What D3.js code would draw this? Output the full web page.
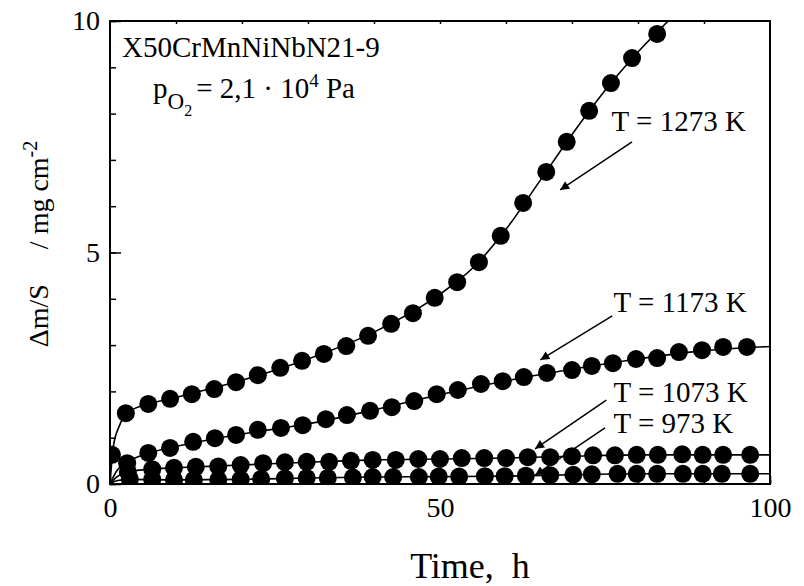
<!DOCTYPE html>
<html>
<head>
<meta charset="utf-8">
<script src="https://cdn.jsdelivr.net/npm/d3@7"></script>
<style>
  body { margin: 0; background: #fff; }
  text { font-family: "Liberation Serif", "Times New Roman", serif; fill: #000; }
</style>
</head>
<body>
<div id="container"></div>
<script>
const width = 804;
const height = 586;
const plotLeft = 110;
const plotRight = 770;
const plotTop = 21;
const plotBottom = 484;

// measured points (time in h, mass gain in mg/cm2)
const time1273 = [2.4, 5.8, 9.1, 12.4, 15.8, 19.1, 22.4, 25.8, 29.1, 32.4, 35.8, 39.1, 42.6, 45.9, 49.2, 52.6, 55.9, 59.2, 62.6, 66.1, 69.2, 72.6, 75.9, 79.1, 82.9];
const mass1273 = [1.53, 1.73, 1.84, 1.94, 2.05, 2.2, 2.35, 2.51, 2.66, 2.81, 2.98, 3.2, 3.46, 3.69, 4.02, 4.36, 4.79, 5.36, 6.07, 6.74, 7.39, 8.06, 8.66, 9.2, 9.72];

const time1173 = [0.3, 2.6, 5.8, 9.1, 12.6, 15.9, 19.1, 22.4, 25.9, 29.2, 32.7, 35.9, 39.4, 42.7, 46.1, 49.5, 52.7, 56.2, 59.5, 62.7, 66.2, 70.0, 73.0, 76.2, 79.7, 82.9, 86.2, 89.7, 92.9, 96.5];
const mass1173 = [0.63, 0.45, 0.67, 0.78, 0.91, 0.99, 1.06, 1.17, 1.21, 1.27, 1.4, 1.49, 1.58, 1.66, 1.79, 1.94, 2.03, 2.16, 2.22, 2.31, 2.4, 2.46, 2.55, 2.61, 2.7, 2.72, 2.85, 2.89, 2.96, 2.96];

const time1073 = [2.7, 6.4, 9.7, 13.0, 16.4, 19.8, 23.2, 26.5, 29.8, 33.2, 36.5, 39.8, 43.3, 46.7, 50.0, 53.3, 56.7, 60.0, 63.3, 66.7, 70.0, 73.2, 76.5, 79.8, 83.0, 86.7, 89.8, 92.9, 97.0];
const mass1073 = [0.26, 0.32, 0.35, 0.37, 0.38, 0.41, 0.45, 0.47, 0.48, 0.48, 0.5, 0.52, 0.52, 0.54, 0.54, 0.56, 0.56, 0.56, 0.58, 0.58, 0.6, 0.62, 0.62, 0.63, 0.63, 0.64, 0.63, 0.63, 0.63];

const time973 = [3.0, 6.4, 9.7, 12.7, 16.4, 19.8, 22.9, 26.5, 29.8, 33.0, 36.8, 39.8, 42.9, 46.8, 49.8, 52.9, 56.8, 59.8, 63.0, 66.7, 70.2, 73.0, 76.9, 79.8, 82.9, 86.8, 89.8, 92.7, 97.0];
const mass973 = [0.11, 0.1, 0.09, 0.09, 0.09, 0.1, 0.11, 0.12, 0.13, 0.13, 0.14, 0.15, 0.15, 0.15, 0.16, 0.16, 0.17, 0.17, 0.18, 0.19, 0.2, 0.21, 0.22, 0.22, 0.22, 0.22, 0.22, 0.22, 0.22];

// fitted curves
const fit1273 = [[0, 0], [0.5, 0.8], [1.4, 1.25], [3, 1.58], [10, 1.87], [20, 2.24], [30, 2.7], [40, 3.28], [50, 4.1], [55, 4.67], [60, 5.5], [65, 6.52], [70, 7.55], [75, 8.5], [80, 9.33], [86, 10.2]];
const fit1173 = [[0, 0], [1, 0.28], [2.6, 0.47], [6, 0.67], [10, 0.81], [20, 1.08], [30, 1.3], [40, 1.6], [50, 1.93], [60, 2.23], [70, 2.48], [80, 2.7], [90, 2.88], [100, 2.97]];
const fit1073 = [[0, 0], [1, 0.15], [2.7, 0.26], [6, 0.32], [10, 0.35], [20, 0.41], [30, 0.47], [40, 0.52], [50, 0.54], [60, 0.56], [70, 0.6], [80, 0.63], [90, 0.63], [100, 0.63]];
const fit973 = [[0, 0], [1, 0.07], [3, 0.1], [10, 0.09], [20, 0.1], [30, 0.13], [40, 0.15], [50, 0.16], [60, 0.17], [70, 0.2], [80, 0.22], [100, 0.22]];

const seriesLabels = ["T = 1273 K", "T = 1173 K", "T = 1073 K", "T = 973 K"];
// label position and arrow (from, to) in data units
const labelPos = [[76.0, 7.62], [76.3, 3.71], [76.3, 1.77], [76.3, 1.1]];
const arrowFrom = [[79.1, 7.39], [76.1, 3.63], [75.2, 1.81], [75.0, 1.21]];
const arrowTo = [[68.2, 6.35], [65.2, 2.68], [64.4, 0.76], [64.4, 0.19]];

const xMajor = [0, 50, 100];
const yMajor = [0, 5, 10];

const series = [
  { t: time1273, m: mass1273, fit: fit1273 },
  { t: time1173, m: mass1173, fit: fit1173 },
  { t: time1073, m: mass1073, fit: fit1073 },
  { t: time973, m: mass973, fit: fit973 }
];

const x = d3.scaleLinear().domain([0, 100]).range([plotLeft, plotRight]);
const y = d3.scaleLinear().domain([0, 10]).range([plotBottom, plotTop]);

const svg = d3.select("#container")
  .append("svg")
  .attr("width", width)
  .attr("height", height);

svg.append("defs").append("clipPath")
  .attr("id", "plot-clip")
  .append("rect")
  .attr("x", plotLeft)
  .attr("y", plotTop)
  .attr("width", plotRight - plotLeft)
  .attr("height", plotBottom - plotTop);

svg.select("defs").append("marker")
  .attr("id", "arrowhead")
  .attr("viewBox", "0 0 10 10")
  .attr("refX", 10)
  .attr("refY", 5)
  .attr("markerWidth", 12)
  .attr("markerHeight", 9)
  .attr("markerUnits", "userSpaceOnUse")
  .attr("orient", "auto")
  .append("path")
  .attr("d", "M0,0 L10,5 L0,10 z")
  .attr("fill", "#000");

// minor ticks
svg.append("g")
  .attr("transform", `translate(0,${plotBottom})`)
  .call(d3.axisBottom(x).tickValues(d3.range(0, 101, 10)).tickSize(-4).tickFormat(""))
  .call(g => g.select(".domain").remove());
svg.append("g")
  .attr("transform", `translate(0,${plotTop})`)
  .call(d3.axisTop(x).tickValues(d3.range(10, 100, 10)).tickSize(-3).tickFormat(""))
  .call(g => g.select(".domain").remove());
svg.append("g")
  .attr("transform", `translate(${plotLeft},0)`)
  .call(d3.axisLeft(y).tickValues(d3.range(0, 11, 1)).tickSize(-6).tickFormat(""))
  .call(g => g.select(".domain").remove());

// major ticks with labels
const xAxis = svg.append("g")
  .attr("transform", `translate(0,${plotBottom})`)
  .call(d3.axisBottom(x).tickValues(xMajor).tickSize(-8).tickPadding(13).tickFormat(d3.format("d")));
xAxis.select(".domain").remove();
xAxis.selectAll("text").attr("font-size", 28).attr("font-family", "Liberation Serif");

const yAxis = svg.append("g")
  .attr("transform", `translate(${plotLeft},0)`)
  .call(d3.axisLeft(y).tickValues(yMajor).tickSize(-11).tickPadding(10).tickFormat(d3.format("d")));
yAxis.select(".domain").remove();
yAxis.selectAll("text").attr("font-size", 28).attr("font-family", "Liberation Serif");

svg.selectAll(".tick line").attr("stroke", "#000").attr("stroke-width", 1.5);

// frame
svg.append("rect")
  .attr("x", plotLeft)
  .attr("y", plotTop)
  .attr("width", plotRight - plotLeft)
  .attr("height", plotBottom - plotTop)
  .attr("fill", "none")
  .attr("stroke", "#000")
  .attr("stroke-width", 2);

const plot = svg.append("g").attr("clip-path", "url(#plot-clip)");

const line = d3.line()
  .x(d => x(d[0]))
  .y(d => y(d[1]))
  .curve(d3.curveMonotoneX);

series.forEach(s => {
  plot.append("path")
    .attr("d", line(s.fit))
    .attr("fill", "none")
    .attr("stroke", "#000")
    .attr("stroke-width", 1.6);

  plot.append("g")
    .selectAll("circle")
    .data(s.t.map((t, i) => [t, s.m[i]]))
    .enter()
    .append("circle")
    .attr("cx", d => x(d[0]))
    .attr("cy", d => y(d[1]))
    .attr("r", 9)
    .attr("fill", "#000");
});

// series labels and arrows
seriesLabels.forEach((label, i) => {
  svg.append("text")
    .attr("x", x(labelPos[i][0]))
    .attr("y", y(labelPos[i][1]))
    .attr("font-size", 29)
    .text(label);

  svg.append("line")
    .attr("x1", x(arrowFrom[i][0]))
    .attr("y1", y(arrowFrom[i][1]))
    .attr("x2", x(arrowTo[i][0]))
    .attr("y2", y(arrowTo[i][1]))
    .attr("stroke", "#000")
    .attr("stroke-width", 1.5)
    .attr("marker-end", "url(#arrowhead)");
});

// material and oxygen pressure
svg.append("text")
  .attr("x", 122)
  .attr("y", 57)
  .attr("font-size", 29)
  .text("X50CrMnNiNbN21-9");

const pText = svg.append("text")
  .attr("x", 153)
  .attr("y", 98)
  .attr("font-size", 29);
pText.append("tspan").text("p");
pText.append("tspan").attr("font-size", 23).attr("dy", 11).text("O");
pText.append("tspan").attr("font-size", 16).attr("dy", 7).text("2");
pText.append("tspan").attr("dy", -18).attr("dx", 4).text("= 2,1 · 10");
pText.append("tspan").attr("font-size", 19).attr("dy", -11).text("4");
pText.append("tspan").attr("dy", 11).text(" Pa");

// axis titles
svg.append("text")
  .attr("x", 470)
  .attr("y", 578)
  .attr("text-anchor", "middle")
  .attr("font-size", 36)
  .attr("xml:space", "preserve")
  .text("Time,  h");

const yTitle = svg.append("text")
  .attr("transform", "translate(48,244) rotate(-90)")
  .attr("text-anchor", "middle")
  .attr("font-size", 28)
  .attr("xml:space", "preserve");
yTitle.append("tspan").text("Δm/S     / mg cm");
yTitle.append("tspan").attr("font-size", 20).attr("dy", -11).text("-2");
</script>
</body>
</html>
